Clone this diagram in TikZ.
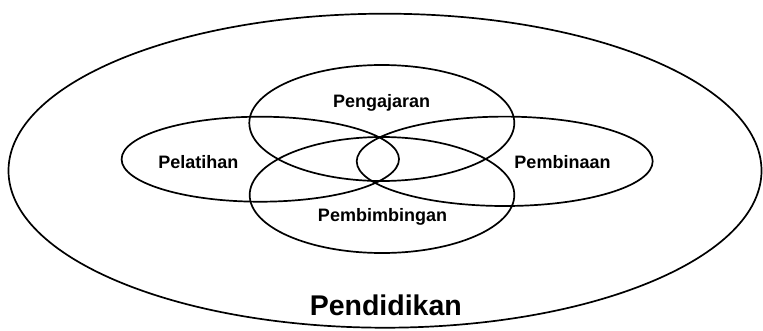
\documentclass[tikz,border=0pt]{standalone}
\usepackage{fontspec}
\setmainfont{Liberation Sans}
\begin{document}
\begin{tikzpicture}[x=1pt,y=-1pt,
  ring/.style={draw=black,line width=1.7pt},
  lbl/.style={font=\fontsize{18}{20}\selectfont\bfseries,inner sep=0pt},
  biglbl/.style={font=\fontsize{28.5}{32}\selectfont\bfseries,inner sep=0pt}]
\useasboundingbox (0,0) rectangle (763,330);
\draw[ring] (385,170.7) ellipse [x radius=376.5, y radius=157];
\draw[ring] (381.8,123) ellipse [x radius=132.5, y radius=58];
\draw[ring] (382,195) ellipse [x radius=132.3, y radius=58];
\draw[ring] (260.3,159.2) ellipse [x radius=138.7, y radius=42.5];
\draw[ring] (504.7,161.3) ellipse [x radius=148, y radius=44.7];
\node[lbl] (peng) at (381.7,102.7) {Pengajaran};
\node[lbl] (pemb) at (382.5,216.7) {Pembimbingan};
\node[lbl] (pel) at (198.3,161.7) {Pelatihan};
\node[lbl] (pbn) at (562.5,162.3) {Pembinaan};
\node[biglbl] (pend) at (385.8,305) {Pendidikan};
\end{tikzpicture}
\end{document}
